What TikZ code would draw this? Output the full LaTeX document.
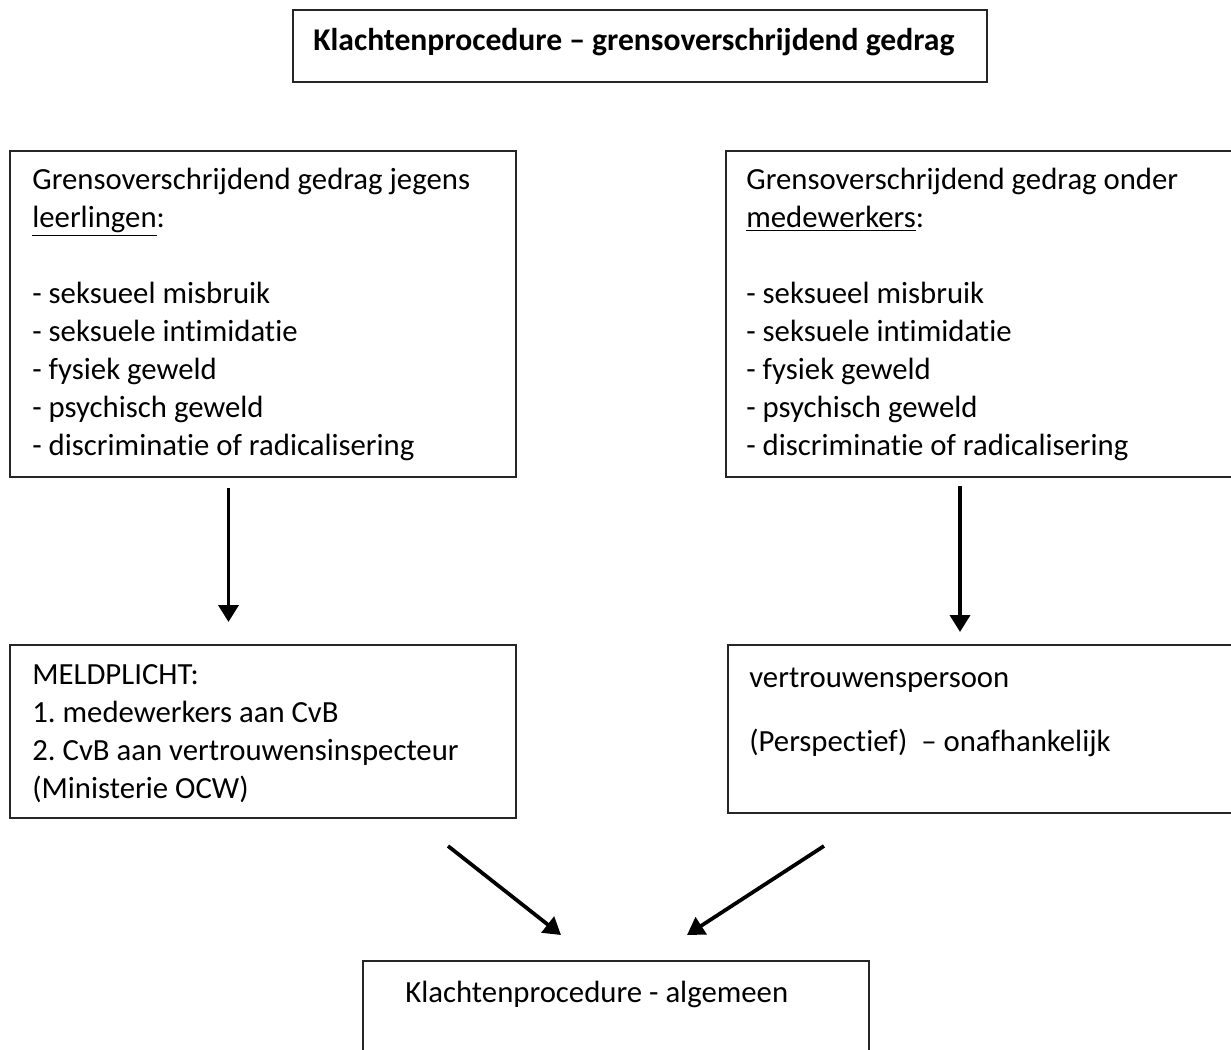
\documentclass[tikz,border=0pt]{standalone}
\usepackage{fontspec}
\setmainfont{Carlito}[Ligatures=NoCommon]
\usetikzlibrary{fit}
\usetikzlibrary{arrows.meta}
\tikzset{
every picture/.style={x=0.02cm, y=-0.02cm,
                      >={Triangle[length=0.34cm,width=0.4cm]}},
%%%%%%%%%%  Node styles
box/.style={draw=black!85, line width=1pt, inner sep=0pt},
boxtext/.style={anchor=base west, align=left, inner sep=0pt,
                font=\fontsize{17.5}{21.62}\selectfont\frenchspacing},
%%%% connector style
flow/.style={->, line width=0.075cm}
}

\begin{document}
\begin{tikzpicture}
\useasboundingbox (0,0) rectangle (1231,1050);
\clip (0,0) rectangle (1231,1050);
\node[box, fit={(293,10) (987,82)}] (title) {};
\node[box, fit={(10,151) (516,477)}] (leerl) {};
\node[box, fit={(726,151) (1245,477)}] (medew) {};
\node[box, fit={(10,645) (516,818)}] (meld) {};
\node[box, fit={(728,645) (1245,813)}] (vertr) {};
\node[box, fit={(363,961) (869,1080)}] (algem) {};
% texts, placed by the baseline of their last line
\node[boxtext, font=\fontsize{18}{21.62}\selectfont\bfseries] (titletext)
  at (313,51) {Klachtenprocedure – grensoverschrijdend gedrag};
\node[boxtext] (leerltext) at (32,455.5) {Grensoverschrijdend gedrag jegens\\
  \underline{leerlingen}:\\[0.76cm]
  - seksueel misbruik\\ - seksuele intimidatie\\ - fysiek geweld\\
  - psychisch geweld\\ - discriminatie of radicalisering};
\node[boxtext] (medewtext) at (746,455.5) {Grensoverschrijdend gedrag onder\\
  \underline{medewerkers}:\\[0.76cm]
  - seksueel misbruik\\ - seksuele intimidatie\\ - fysiek geweld\\
  - psychisch geweld\\ - discriminatie of radicalisering};
\node[boxtext] (meldtext) at (32,798) {MELDPLICHT:\\ 1. medewerkers aan CvB\\
  2. CvB aan vertrouwensinspecteur\\ (Ministerie OCW)};
\node[boxtext] (vertrtext) at (749,751) {vertrouwenspersoon\\[0.52cm]
  (Perspectief)\ \ – onafhankelijk};
\node[boxtext] (algemtext) at (405,1002) {Klachtenprocedure - algemeen};
% arrow ends
\coordinate (leerl-out) at (228.5,488);
\coordinate (meld-in) at (228.5,622);
\coordinate (medew-out) at (960,486);
\coordinate (vertr-in) at (960,632);
\coordinate (meld-out) at (448,846);
\coordinate (vertr-out) at (824,846);
\coordinate (algem-inl) at (561,935);
\coordinate (algem-inr) at (687,935);
\draw[flow] (leerl-out) -- (meld-in);
\draw[flow] (medew-out) -- (vertr-in);
\draw[flow] (meld-out) -- (algem-inl);
\draw[flow] (vertr-out) -- (algem-inr);
\end{tikzpicture}
\end{document}
